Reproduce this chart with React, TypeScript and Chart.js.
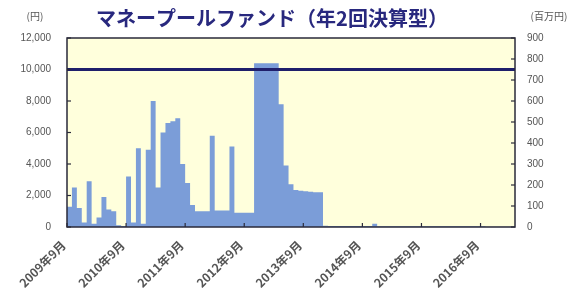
import React, { useEffect, useRef } from "react";
import { Chart, registerables } from "chart.js";

Chart.register(...registerables);

// ---- data ----
const START_YEAR = 2009;
const START_MONTH = 9; // September
const TITLE = "マネープールファンド（年2回決算型）";
const LEFT_UNIT = "(円)";
const RIGHT_UNIT = "(百万円)";

// Net assets (百万円), monthly from 2009年9月
const netAssets: number[] = [
  97, 188, 90, 22, 218, 15, 45, 143, 83, 75, 8, 5,
  240, 22, 375, 15, 368, 600, 188, 450, 495, 503, 518, 300,
  210, 105, 75, 75, 75, 435, 79, 79, 79, 383, 68, 68,
  68, 68, 780, 780, 780, 780, 780, 585, 293, 203, 176, 173,
  170, 168, 166, 165, 6, 5, 5, 5, 5, 5, 5, 5,
  5, 5, 15, 3, 3, 3, 3, 3, 3, 3, 3, 3,
  3, 3, 3, 3, 3, 3, 3, 3, 3, 3, 3, 3,
  3, 1, 1, 1, 1, 1, 1,
];

// Base price (円): constant 10,000 over the whole period
const PRICE = 10000;

const leftTicks = [0, 2000, 4000, 6000, 8000, 10000, 12000];
const rightTicks = [0, 100, 200, 300, 400, 500, 600, 700, 800, 900];

const monthLabels: string[] = netAssets.map((_, i) => {
  const t = START_MONTH - 1 + i;
  const y = START_YEAR + Math.floor(t / 12);
  const m = (t % 12) + 1;
  return `${y}年${m}月`;
});

const AREA_COLOR = "#7b9dd8";

const frame = {
  id: "frame",
  beforeDatasetsDraw(chart: any) {
    const { ctx, chartArea: a } = chart;
    ctx.save();
    ctx.fillStyle = "#ffffdc";
    ctx.fillRect(a.left, a.top, a.right - a.left, a.bottom - a.top);
    ctx.restore();
  },
  afterDraw(chart: any) {
    const { ctx, chartArea: a, scales } = chart;
    ctx.save();
    ctx.strokeStyle = "#2a2a3a";
    ctx.lineWidth = 1.5;
    ctx.strokeRect(a.left, a.top, a.right - a.left, a.bottom - a.top);
    ctx.lineWidth = 1.2;
    // inward ticks
    const yl = scales.y;
    leftTicks.forEach((v) => {
      const py = yl.getPixelForValue(v);
      ctx.beginPath();
      ctx.moveTo(a.left, py);
      ctx.lineTo(a.left + 4, py);
      ctx.stroke();
    });
    const yr = scales.y1;
    rightTicks.forEach((v) => {
      const py = yr.getPixelForValue(v);
      ctx.beginPath();
      ctx.moveTo(a.right, py);
      ctx.lineTo(a.right - 4, py);
      ctx.stroke();
    });
    const x2 = scales.x2;
    monthLabels.forEach((lab, i) => {
      if (!lab.endsWith("年9月")) return;
      const px = x2.getPixelForValue(i);
      ctx.beginPath();
      ctx.moveTo(px, a.bottom);
      ctx.lineTo(px, a.bottom - 4);
      ctx.stroke();
    });
    // titles
    ctx.fillStyle = "#28287e";
    ctx.font = "bold 20px 'Noto Sans CJK JP'";
    ctx.textAlign = "center";
    ctx.textBaseline = "middle";
    ctx.fillText(TITLE, 272, 18);
    ctx.fillStyle = "#555";
    ctx.font = "10px 'Noto Sans CJK JP'";
    ctx.fillText(LEFT_UNIT, 35, 16);
    ctx.fillText(RIGHT_UNIT, 549, 16);
    ctx.restore();
  },
};

export default function App() {
  const ref = useRef<HTMLCanvasElement>(null);
  useEffect(() => {
    document.body.style.margin = "0";
    const N = monthLabels.length;
    // each month's value holds from the start of that month to the start of the next
    const areaPoints = netAssets.map((v, i) => ({ x: i, y: v }));
    areaPoints.push({ x: N, y: netAssets[N - 1] });
    const chart = new Chart(ref.current!, {
      type: "line",
      data: {
        labels: monthLabels,
        datasets: [
          {
            label: "基準価額",
            data: [
              { x: 0, y: PRICE },
              { x: N, y: PRICE },
            ] as any,
            xAxisID: "x2",
            yAxisID: "y",
            borderColor: "#1f1f6b",
            borderWidth: 3,
            pointRadius: 0,
            fill: false,
            order: 0,
          } as any,
          {
            label: "純資産総額",
            data: areaPoints as any,
            xAxisID: "x2",
            yAxisID: "y1",
            stepped: "before",
            fill: "origin",
            backgroundColor: AREA_COLOR,
            borderColor: AREA_COLOR,
            borderWidth: 0,
            pointRadius: 0,
            order: 1,
          } as any,
        ],
      },
      plugins: [frame],
      options: {
        animation: false,
        responsive: true,
        maintainAspectRatio: false,
        layout: { padding: { top: 38, left: 0, right: 0, bottom: 0 } },
        plugins: {
          legend: { display: false },
          tooltip: { enabled: false },
        },
        scales: {
          x: {
            type: "category",
            offset: true,
            grid: { display: false, drawTicks: false },
            border: { display: false },
            ticks: {
              autoSkip: false,
              maxRotation: 45,
              minRotation: 45,
              padding: 11,
              labelOffset: -6,
              color: "#555",
              font: { size: 12, family: "'Noto Sans CJK JP'", weight: "bold" },
              callback: (_v: any, i: number) =>
                monthLabels[i].endsWith("年9月") ? monthLabels[i] : "",
            },
            afterFit: (s: any) => {
              s.height = 66;
            },
          },
          x2: {
            type: "linear",
            display: false,
            offset: false,
            grace: 0,
            bounds: "data",
            min: 0,
            max: N,
          },
          y: {
            position: "left",
            min: 0,
            max: 12000,
            afterBuildTicks: (s: any) => {
              s.ticks = leftTicks.map((v) => ({ value: v }));
            },
            grid: { display: false, drawTicks: false },
            border: { display: false },
            ticks: {
              padding: 16,
              color: "#555",
              font: { size: 10, family: "'Liberation Sans'" },
              callback: (v: any) => Number(v).toLocaleString("en-US"),
            },
            afterFit: (s: any) => {
              s.width = 67;
            },
          },
          y1: {
            position: "right",
            min: 0,
            max: 900,
            afterBuildTicks: (s: any) => {
              s.ticks = rightTicks.map((v) => ({ value: v }));
            },
            grid: { display: false, drawTicks: false },
            border: { display: false },
            ticks: {
              padding: 12,
              color: "#555",
              font: { size: 10, family: "'Liberation Sans'" },
            },
            afterFit: (s: any) => {
              s.width = 60;
            },
          },
        },
      } as any,
    });
    return () => chart.destroy();
  }, []);
  return (
    <div style={{ width: 575, height: 293, position: "relative" }}>
      <canvas ref={ref} />
    </div>
  );
}
